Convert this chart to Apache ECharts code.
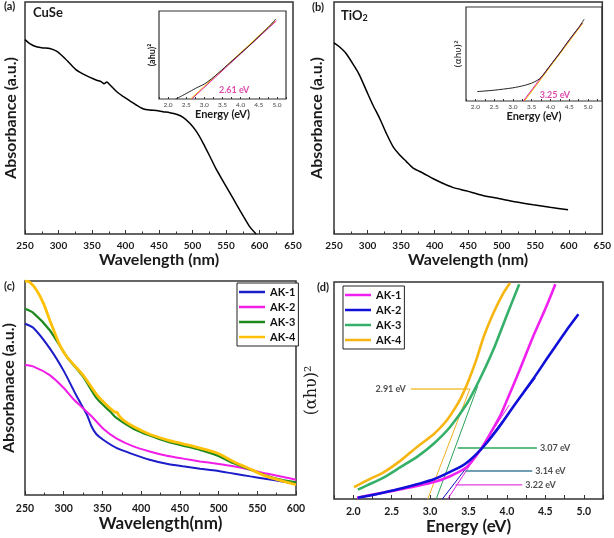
<!DOCTYPE html>
<html><head><meta charset="utf-8">
<script src="https://cdn.jsdelivr.net/npm/echarts@6/dist/echarts.min.js"></script>
<style>html,body{margin:0;padding:0;background:#fff}#c{width:614px;height:538px}</style>
</head><body><div id="c"></div>
<script>
// ---------- (a) CuSe absorbance ----------
const cuseWl  = [250,257,267,277,287,297,307,317,327,337,347,357,364,368,372,377,387,397,407,416,426,436,446,456,466,476,486,496,506,516,526,536,546,556,566,576,585,595];
const cuseAbs = [0.838,0.821,0.807,0.802,0.80,0.788,0.764,0.735,0.706,0.689,0.675,0.663,0.656,0.648,0.655,0.642,0.613,0.592,0.573,0.556,0.54,0.534,0.532,0.527,0.523,0.516,0.503,0.477,0.441,0.391,0.334,0.276,0.226,0.176,0.126,0.076,0.033,0.0];
// inset (a) Tauc
const cuseTaucE = [2.21,2.4,2.6,2.8,3.0,3.2,3.4,3.7,4.0,4.3,4.6,4.8,4.97];
const cuseTaucV = [0,0.04,0.085,0.13,0.17,0.23,0.3,0.41,0.52,0.63,0.75,0.83,0.91];
const cuseFitE = [2.65,4.99];
const cuseFitV = [0,0.89];
const cuseGap = {e:3.82, v:0.10, text:'2.61 eV'};
// ---------- (b) TiO2 absorbance ----------
const tioWl  = [250,258,268,281,288,298,308,318,328,338,348,358,368,383,398,412,427,447,472,497,522,547,572,599];
const tioAbs = [0.824,0.807,0.778,0.72,0.685,0.62,0.556,0.499,0.434,0.377,0.341,0.312,0.284,0.262,0.238,0.219,0.201,0.186,0.166,0.152,0.138,0.126,0.115,0.105];
const tioTaucE = [2.05,2.5,3.0,3.3,3.5,3.65,3.75,4.0,4.25,4.5,4.75,4.9];
const tioTaucV = [0.1,0.115,0.14,0.165,0.19,0.22,0.25,0.38,0.51,0.65,0.78,0.87];
const tioFitE = [3.28,4.85];
const tioFitV = [0,0.83];
const tioGap = {e:4.12, v:0.064, text:'3.25 eV'};
// ---------- (c) AK samples absorbance ----------
const cNames = ['AK-1','AK-2','AK-3','AK-4'];
const c1Wl = [250,261,282,300,317,330,336,342,351,368,390,411,433,454,476,498,519,541,562,584,600];
const c1Ab = [0.80,0.78,0.685,0.58,0.46,0.375,0.32,0.285,0.258,0.22,0.19,0.165,0.146,0.134,0.123,0.113,0.10,0.087,0.075,0.062,0.053];
const c2Wl = [250,261,282,300,312,325,338,351,368,390,411,433,454,476,498,519,541,562,584,600];
const c2Ab = [0.607,0.60,0.56,0.50,0.45,0.405,0.36,0.31,0.265,0.227,0.203,0.183,0.17,0.157,0.146,0.134,0.118,0.10,0.084,0.071];
const c3Wl = [250,261,282,304,325,343,360,368,390,411,433,454,476,498,519,541,562,584,600];
const c3Ab = [0.87,0.85,0.77,0.646,0.553,0.45,0.39,0.36,0.31,0.278,0.25,0.231,0.211,0.185,0.149,0.118,0.09,0.068,0.059];
const c4Wl = [250,256,265,274,282,295,304,325,343,360,366,369,372,377,390,411,433,454,476,498,519,541,562,584,600];
const c4Ab = [1.0,0.995,0.957,0.894,0.817,0.70,0.646,0.56,0.467,0.405,0.388,0.385,0.368,0.35,0.32,0.284,0.258,0.239,0.219,0.196,0.157,0.121,0.087,0.064,0.048];
// ---------- (d) Tauc plots ----------
const d1E = [2.05,2.4,2.62,2.83,3.05,3.26,3.48,3.65,3.78,3.91,4.0,4.16,4.33,4.51,4.63];
const d1V = [0.006,0.03,0.045,0.06,0.078,0.105,0.148,0.224,0.30,0.382,0.455,0.59,0.74,0.885,0.99];
const d2E = [2.06,2.2,2.4,2.62,2.83,3.05,3.26,3.45,3.65,3.87,4.08,4.33,4.55,4.76,4.93];
const d2V = [0.006,0.015,0.03,0.048,0.068,0.091,0.125,0.16,0.224,0.318,0.424,0.547,0.662,0.77,0.851];
const d3E = [2.06,2.18,2.4,2.62,2.83,3.05,3.26,3.48,3.64,3.82,3.99,4.16];
const d3V = [0.043,0.063,0.10,0.148,0.194,0.256,0.332,0.44,0.547,0.685,0.839,0.99];
const d4E = [2.01,2.18,2.4,2.62,2.83,3.05,3.2,3.3,3.4,3.5,3.6,3.7,3.82,3.95,4.04];
const d4V = [0.055,0.086,0.124,0.178,0.24,0.30,0.355,0.405,0.465,0.545,0.64,0.75,0.854,0.946,0.995];
// tangents [E0,V0,E1,V1]
const tanAK1 = [3.23,0,4.03,0.433];
const tanAK2 = [3.16,0,4.37,0.557];
const tanAK3 = [3.08,0,3.62,0.52];
const tanAK4 = [2.97,0,3.52,0.51];
// band gap annotations
const annoText = ['2.91 eV','3.07 eV','3.14 eV','3.22 eV'];
const annoE0 = [2.75,3.36,3.46,3.33];
const annoE1 = [3.50,4.39,4.33,4.20];
const annoV  = [0.507,0.235,0.129,0.065];

const F = 'Lato', TXT = '#1a1a1a', FRAME = '#333';
const pairs = (xs, ys) => xs.map((x,i)=>[x, ys[i]]);
const halfLabel = v => (Math.abs(v*2 - Math.round(v*2)) < 1e-6 ? v.toFixed(1) : '');

const grids = [
  {left:25, top:2, width:268, height:232},
  {left:334, top:2, width:269, height:232},
  {left:25, top:281, width:271, height:214},
  {left:334, top:282, width:269, height:217},
  {left:159, top:11, width:127, height:88, borderWidth:1.2},
  {left:466, top:7, width:136, height:94, borderWidth:1.2}
].map(g => Object.assign({show:true, borderColor:FRAME, borderWidth:1.5, backgroundColor:'rgba(0,0,0,0)'}, g));

const mainX = (gi, min, max, interval, name, gap, extra) => Object.assign({
  gridIndex:gi, type:'value', min, max, interval, name, nameLocation:'middle', nameGap:gap,
  nameTextStyle:{fontFamily:F, fontWeight:'bold', fontSize:16, color:TXT},
  axisLine:{show:false}, splitLine:{show:false},
  axisTick:{show:true, inside:true, length:4, lineStyle:{color:FRAME, width:1}},
  minorTick:{show:true, splitNumber:2, length:2.5, lineStyle:{color:FRAME, width:1}},
  axisLabel:{fontFamily:F, fontWeight:'bold', fontSize:10, color:TXT, margin:7, showMinLabel:true, showMaxLabel:true}
}, extra||{});
const insetX = (gi, max) => ({
  gridIndex:gi, type:'value', min:1.75, max, interval:0.25, name:'Energy (eV)', nameLocation:'middle', nameGap:8,
  nameTextStyle:{fontFamily:F, fontWeight:'bold', fontSize:11, color:TXT},
  axisLine:{show:false}, splitLine:{show:false},
  axisTick:{show:true, inside:true, length:2, lineStyle:{color:FRAME}},
  axisLabel:{fontFamily:F, fontSize:6.5, color:'#444', margin:2, formatter:halfLabel, showMinLabel:true}
});
const yAx = (gi, name, gap, style) => ({
  gridIndex:gi, type:'value', min:0, max:1, name, nameLocation:'middle', nameGap:gap,
  nameTextStyle:Object.assign({fontFamily:F, fontWeight:'bold', fontSize:16, color:TXT}, style||{}),
  axisLine:{show:false}, axisTick:{show:false}, axisLabel:{show:false}, splitLine:{show:false}
});

const xAxes = [
  mainX(0,250,650,50,'Wavelength (nm)',16),
  mainX(1,250,650,50,'Wavelength (nm)',16),
  mainX(2,250,600,50,'Wavelength(nm)',19,{nameTextStyle:{fontFamily:F, fontWeight:'bold', fontSize:17, color:TXT}, axisLabel:{fontFamily:F, fontWeight:'bold', fontSize:10.5, color:TXT, margin:8, showMinLabel:true, showMaxLabel:true}}),
  mainX(3,1.75,5.25,0.25,'Energy (eV)',19,{minorTick:{show:false}, nameTextStyle:{fontFamily:F, fontWeight:'bold', fontSize:17, color:TXT}, axisLabel:{fontFamily:F, fontWeight:'bold', fontSize:10.5, color:TXT, margin:7, formatter:halfLabel}}),
  insetX(4,5.25),
  insetX(5,5.375)
];
const yAxes = [
  yAx(0,'Absorbance (a.u.)',6),
  yAx(1,'Absorbance (a.u.)',9),
  yAx(2,'Absorbanace (a.u.)',8),
  yAx(3,'(αhυ)²',14,{fontFamily:'DejaVu Serif', fontWeight:'normal', fontSize:16}),
  yAx(4,'(ahu)²',2,{fontSize:9}),
  yAx(5,'(αhυ)²',3,{fontFamily:'DejaVu Sans', fontWeight:'normal', fontSize:9})
];

const line = (gi, name, data, color, width, extra) => Object.assign({
  type:'line', name, xAxisIndex:gi, yAxisIndex:gi, data, symbol:'none', smooth:0.25,
  lineStyle:{color, width}, itemStyle:{color}, silent:true, z:3
}, extra||{});
const seg = (gi, name, d, color, width) => line(gi, name, [[d[0],d[1]],[d[2],d[3]]], color, width, {smooth:false, z:2});

const cColors = ['#1c1cc8','#f01ee6','#1e8a1e','#ffc107'];
const dColors = ['#f020f0','#1010d8','#35b068','#f7b512'];
const dNames = cNames.map(n => n + ' d');

const series = [
  line(0,'CuSe',pairs(cuseWl,cuseAbs),'#000',1.5),
  line(4,'CuSe Tauc',pairs(cuseTaucE,cuseTaucV),'#222',1),
  seg(4,'CuSe fit2',[cuseFitE[0]-0.03,cuseFitV[0],cuseFitE[1]-0.04,cuseFitV[1]],'#f2c200',1),
  seg(4,'CuSe fit',[cuseFitE[0],cuseFitV[0],cuseFitE[1],cuseFitV[1]],'#e0209a',1),
  {type:'scatter', xAxisIndex:4, yAxisIndex:4, symbolSize:0, silent:true, data:[[cuseGap.e,cuseGap.v]],
   label:{show:true, position:'inside', formatter:cuseGap.text, fontFamily:F, fontWeight:'bold', fontSize:9, color:'#d4209a'}},
  line(1,'TiO2',pairs(tioWl,tioAbs),'#000',1.5),
  line(5,'TiO2 Tauc',pairs(tioTaucE,tioTaucV),'#222',1),
  seg(5,'TiO2 fit2',[tioFitE[0]+0.03,tioFitV[0],tioFitE[1]+0.02,tioFitV[1]],'#f2c200',1),
  seg(5,'TiO2 fit',[tioFitE[0],tioFitV[0],tioFitE[1],tioFitV[1]],'#e0209a',1),
  {type:'scatter', xAxisIndex:5, yAxisIndex:5, symbolSize:0, silent:true, data:[[tioGap.e,tioGap.v]],
   label:{show:true, position:'inside', formatter:tioGap.text, fontFamily:F, fontWeight:'bold', fontSize:9, color:'#d4209a'}},
  line(2,cNames[0],pairs(c1Wl,c1Ab),cColors[0],2),
  line(2,cNames[1],pairs(c2Wl,c2Ab),cColors[1],2),
  line(2,cNames[2],pairs(c3Wl,c3Ab),cColors[2],2.2),
  line(2,cNames[3],pairs(c4Wl,c4Ab),cColors[3],2.8),
  line(3,dNames[0],pairs(d1E,d1V),dColors[0],2.6),
  line(3,dNames[1],pairs(d2E,d2V),dColors[1],2.6),
  line(3,dNames[2],pairs(d3E,d3V),dColors[2],2.6),
  line(3,dNames[3],pairs(d4E,d4V),dColors[3],2.6),
  seg(3,'t1',tanAK1,'#e020e0',1),
  seg(3,'t2',tanAK2,'#1010c0',1),
  seg(3,'t3',tanAK3,'#2aa05a',1),
  seg(3,'t4',tanAK4,'#f0b020',1)
];
const annoColors = ['#f2c040','#2aa85a','#3f7f9a','#e040e0'];
annoText.forEach((t,i) => {
  series.push(seg(3,'a'+i,[annoE0[i],annoV[i],annoE1[i],annoV[i]],annoColors[i],1.3));
});
series.push({type:'scatter', xAxisIndex:3, yAxisIndex:3, symbolSize:0, silent:true, z:5,
  data: annoText.map((t,i) => ({value: i===0 ? [annoE0[i],annoV[i]] : [annoE1[i],annoV[i]],
    label:{show:true, position: i===0 ? 'left' : 'right', distance: i===0 ? 5 : 3, formatter:t,
      fontFamily:F, fontWeight:'bold', fontSize:9, color:'#222'}}))});

const legendBase = {orient:'vertical', icon:'rect', itemWidth:26, itemHeight:2.5, itemGap:1,
  padding:[2,3,2,2], borderColor:'#222', borderWidth:1, selectedMode:false, backgroundColor:'#fff',
  textStyle:{fontFamily:F, fontWeight:'bold', fontSize:11, color:'#111', lineHeight:14}};

const option = {
  animation:false,
  backgroundColor:'#fff',
  grid:grids, xAxis:xAxes, yAxis:yAxes, series,
  legend:[
    Object.assign({left:237, top:283, data:cNames}, legendBase),
    Object.assign({left:343, top:286, data:dNames, formatter: n => n.split(' ')[0]}, legendBase)
  ],
  title:[
    {text:'(a)', left:4, top:1},
    {text:'CuSe', left:33, top:6, textStyle:{fontSize:13}},
    {text:'(b)', left:312, top:2},
    {text:'{a|TiO}{b|2}', left:341, top:8, textStyle:{rich:{a:{fontFamily:F,fontWeight:'bold',fontSize:13,color:TXT}, b:{fontFamily:F,fontWeight:'bold',fontSize:9,color:TXT,padding:[6,0,0,0]}}}},
    {text:'(c)', left:4, top:281},
    {text:'(d)', left:317, top:282}
  ].map(t => Object.assign({padding:0}, t, {textStyle:Object.assign({fontFamily:F, fontWeight:'bold', fontSize:11, color:TXT}, t.textStyle||{})}))
};
const chart = echarts.init(document.getElementById('c'), null, {renderer:'canvas'});
chart.setOption(option);
</script></body></html>
